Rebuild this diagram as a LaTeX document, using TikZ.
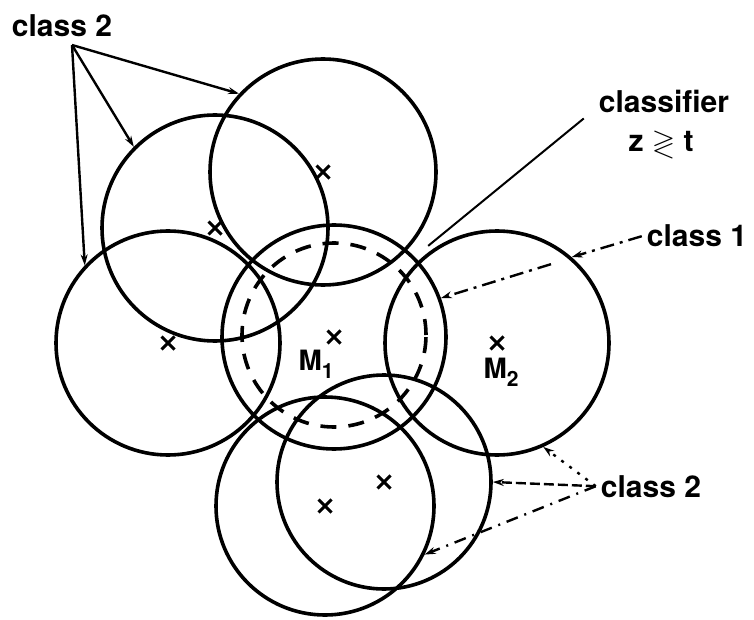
\documentclass[tikz,border=0pt]{standalone}
\usepackage{amssymb}
\usepackage{fontspec}
\setmainfont{TeX Gyre Heros}
\usetikzlibrary{positioning,arrows.meta,calc,shapes.misc}

\tikzset{
  ring/.style={circle, draw, line width=3.6pt, inner sep=0pt},
  centre/.style={cross out, draw, line width=3pt, minimum size=10pt, inner sep=0pt},
  lbl/.style={font=\fontsize{30}{32}\selectfont\bfseries, inner sep=5pt, anchor=base},
  mlbl/.style={font=\fontsize{28}{30}\selectfont\bfseries, inner sep=2pt, anchor=base},
  pointer/.style={line width=2.4pt, -{Stealth[length=11pt,width=7pt]}},
  dashdot/.style={dash pattern=on 14pt off 6pt on 3pt off 6pt},
}
\newcommand{\msub}[1]{\raisebox{-8pt}{\fontsize{21}{21}\selectfont #1}}

\begin{document}
\begin{tikzpicture}[x=1pt,y=-1pt]
  \useasboundingbox (0,0) rectangle (754,620);
  % the seven discs
  \node[ring, minimum size=226pt] (ctop) at (323,172) {};
  \node[ring, minimum size=226pt] (cupl) at (215,228) {};
  \node[ring, minimum size=224pt] (clft) at (168,343) {};
  \node[ring, minimum size=224pt] (cm1) at (334,337) {};
  \node[ring, minimum size=224pt] (cm2) at (497,343) {};
  \node[ring, minimum size=218pt] (cbl) at (325,506) {};
  \node[ring, minimum size=214pt] (cbr) at (384,482) {};
  % classifier boundary round M1
  \node[ring, dash pattern=on 16pt off 12pt, minimum size=184pt] (bnd) at (334,335) {};
  % centres
  \foreach \c in {ctop,cupl,clft,cm1,cm2,cbl,cbr}
    \node[centre] (x\c) at (\c.center) {};
  \node[mlbl] (m1) at (316,370) {M\msub{1}};
  \node[mlbl] (m2) at (501,378) {M\msub{2}};
  % labels
  \node[lbl] (cls2a) at (62,37) {class 2};
  \node[lbl] (clf) at (664,113) {classifier};
  \node[lbl] (clfz) at (661,152) {z $\gtrless$ t};
  \node[lbl] (cls1) at (697,247) {class 1};
  \node[lbl] (cls2b) at (651,497) {class 2};
  % pointers
  \coordinate (fan) at (72,45);
  \foreach \c/\a in {ctop/137,cupl/135,clft/137}
    \draw[pointer] (fan) -- (\c.\a);
  \draw[line width=2pt, shorten >=36pt] ($(clf.south west)+(-10,0)$) -- (bnd.45);
  \draw[pointer, dashdot] (cls1.west) -- (cm2.49);
  \draw[pointer, dashdot, shorten <=95pt] (cls1.west) -- (cm1.20);
  \draw[pointer, dash pattern=on 3pt off 7pt] (cls2b.west) -- (cm2.-66);
  \draw[pointer, dash pattern=on 10pt off 4pt] (cls2b.west) -- (cbr.0);
  \draw[pointer, dash pattern=on 12pt off 7pt on 2pt off 7pt] (cls2b.west) -- (cbl.-26);
\end{tikzpicture}
\end{document}
